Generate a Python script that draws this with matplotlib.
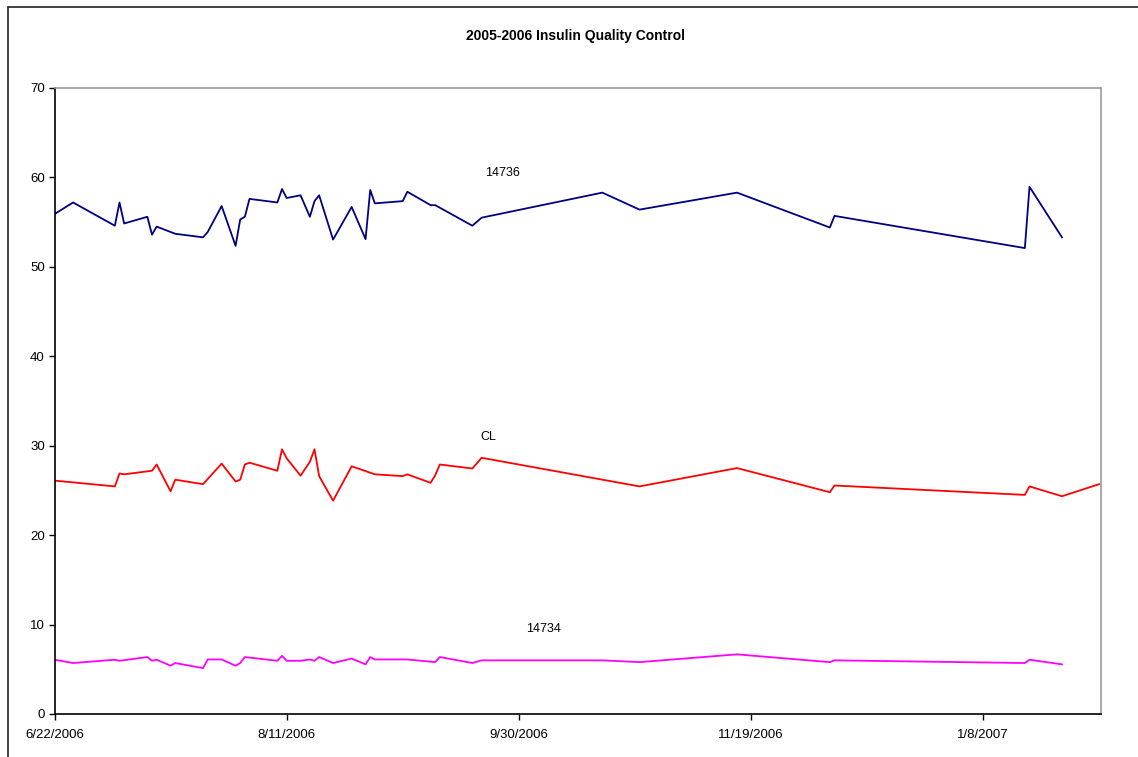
import matplotlib
matplotlib.use("Agg")
import matplotlib.pyplot as plt
import matplotlib.dates as mdates
from matplotlib.patches import Rectangle
import pandas as pd

plt.rcParams['font.family'] = ['Liberation Sans', 'DejaVu Sans']

title = "2005-2006 Insulin Quality Control"

dates_14736 = ["2006-06-22", "2006-06-26", "2006-07-05", "2006-07-06", "2006-07-07",
               "2006-07-12", "2006-07-13", "2006-07-14", "2006-07-18", "2006-07-24",
               "2006-07-25", "2006-07-28", "2006-07-31", "2006-08-01", "2006-08-02",
               "2006-08-03", "2006-08-09", "2006-08-10", "2006-08-11", "2006-08-14",
               "2006-08-16", "2006-08-17", "2006-08-18", "2006-08-21", "2006-08-25",
               "2006-08-28", "2006-08-29", "2006-08-30", "2006-09-05", "2006-09-06",
               "2006-09-11", "2006-09-12", "2006-09-20", "2006-09-22", "2006-10-18",
               "2006-10-26", "2006-11-16", "2006-12-06", "2006-12-07", "2007-01-17",
               "2007-01-18", "2007-01-25"]
values_14736 = [55.9, 57.2, 54.6, 57.2, 54.85,
                55.6, 53.6, 54.5, 53.7, 53.3,
                53.9, 56.8, 52.35, 55.3, 55.6,
                57.6, 57.2, 58.7, 57.7, 58.0,
                55.6, 57.35, 58.0, 53.05, 56.7,
                53.1, 58.6, 57.1, 57.35, 58.4,
                56.9, 56.9, 54.6, 55.5, 58.3,
                56.4, 58.3, 54.4, 55.7, 52.1,
                58.95, 53.3]

dates_cl = ["2006-06-22", "2006-06-26", "2006-07-05", "2006-07-06", "2006-07-07",
            "2006-07-13", "2006-07-14", "2006-07-17", "2006-07-18", "2006-07-24",
            "2006-07-28", "2006-07-31", "2006-08-01", "2006-08-02", "2006-08-03",
            "2006-08-09", "2006-08-10", "2006-08-11", "2006-08-14", "2006-08-16",
            "2006-08-17", "2006-08-18", "2006-08-21", "2006-08-25", "2006-08-30",
            "2006-09-05", "2006-09-06", "2006-09-11", "2006-09-12", "2006-09-13",
            "2006-09-20", "2006-09-22", "2006-10-26", "2006-11-16", "2006-12-06",
            "2006-12-07", "2007-01-17", "2007-01-18", "2007-01-25", "2007-02-02"]
values_cl = [26.1, 25.9, 25.45, 26.9, 26.8,
             27.2, 27.9, 24.9, 26.2, 25.7,
             28.0, 26.0, 26.2, 27.9, 28.1,
             27.2, 29.6, 28.6, 26.65, 28.2,
             29.6, 26.6, 23.85, 27.7, 26.8,
             26.6, 26.8, 25.85, 26.7, 27.9,
             27.45, 28.65, 25.45, 27.5, 24.8,
             25.55, 24.5, 25.45, 24.35, 25.7]

dates_14734 = ["2006-06-22", "2006-06-26", "2006-07-05", "2006-07-06", "2006-07-12",
               "2006-07-13", "2006-07-14", "2006-07-17", "2006-07-18", "2006-07-24",
               "2006-07-25", "2006-07-28", "2006-07-31", "2006-08-01", "2006-08-02",
               "2006-08-09", "2006-08-10", "2006-08-11", "2006-08-14", "2006-08-16",
               "2006-08-17", "2006-08-18", "2006-08-21", "2006-08-25", "2006-08-28",
               "2006-08-29", "2006-08-30", "2006-09-06", "2006-09-12", "2006-09-13",
               "2006-09-20", "2006-09-22", "2006-10-18", "2006-10-26", "2006-11-16",
               "2006-12-06", "2006-12-07", "2007-01-17", "2007-01-18", "2007-01-25"]
values_14734 = [6.07, 5.7, 6.07, 5.95, 6.37,
                5.95, 6.07, 5.4, 5.7, 5.13,
                6.1, 6.1, 5.4, 5.7, 6.37,
                5.95, 6.5, 5.95, 5.95, 6.1,
                5.95, 6.37, 5.7, 6.2, 5.55,
                6.37, 6.1, 6.1, 5.8, 6.37,
                5.7, 6.0, 6.0, 5.8, 6.67,
                5.8, 6.0, 5.7, 6.07, 5.55]

x_ticks = ["2006-06-22", "2006-08-11", "2006-09-30", "2006-11-19", "2007-01-08"]
y_ticks = [0, 10, 20, 30, 40, 50, 60, 70]

labels = [("14736", "2006-09-26 14:00", 60.5), ("CL", "2006-09-23 08:00", 31.0),
          ("14734", "2006-10-05 10:00", 9.5)]

fig = plt.figure(figsize=(11.38, 7.57), dpi=100)
fig.patch.set_facecolor("white")
# outer chart-area border
fig.add_artist(Rectangle((8 / 1138, -0.05), 1.2, (757 - 7) / 757 + 0.05,
                         transform=fig.transFigure, fill=False,
                         edgecolor="#333333", linewidth=1.3))

ax = fig.add_axes([54.5 / 1138, 1 - 714 / 757, (1101 - 54.5) / 1138, (714 - 88) / 757])

ax.plot(pd.to_datetime(dates_14736), values_14736, color="#000080", linewidth=1.3)
ax.plot(pd.to_datetime(dates_cl), values_cl, color="#FF0000", linewidth=1.3)
ax.plot(pd.to_datetime(dates_14734), values_14734, color="#FF00FF", linewidth=1.3)

for txt, d, v in labels:
    ax.text(pd.Timestamp(d), v, txt, fontsize=9, ha="center", va="center", color="black")

x0 = mdates.date2num(pd.Timestamp("2006-06-22"))
ax.set_xlim(x0, x0 + 225.4)
ax.set_ylim(0, 70)
ax.set_yticks(y_ticks)
ax.set_xticks(pd.to_datetime(x_ticks))
ax.set_xticklabels([pd.Timestamp(t).strftime("%-m/%-d/%Y") for t in x_ticks])
ax.tick_params(axis="both", direction="out", length=4, width=1, labelsize=9.5, pad=3,
               colors="black")
ax.tick_params(axis="x", pad=7)

for s in ["left", "bottom"]:
    ax.spines[s].set_color("black")
    ax.spines[s].set_linewidth(1.2)
for s in ["top", "right"]:
    ax.spines[s].set_color("#999999")
    ax.spines[s].set_linewidth(1.2)

fig.text(576 / 1138, 1 - 36 / 757, title, fontsize=10, fontweight="bold",
         ha="center", va="center")

fig.savefig("out.png", dpi=100)
